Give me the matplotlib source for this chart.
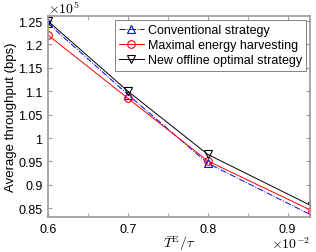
import numpy as np
import matplotlib
matplotlib.use("Agg")
import matplotlib.pyplot as plt
from matplotlib.ticker import MultipleLocator, FuncFormatter

x = [0.006, 0.007, 0.008, 0.0093]
conventional = [1.245e5, 1.093e5, 0.946e5, 0.835e5]
max_harvest = [1.220e5, 1.085e5, 0.951e5, 0.845e5]
offline_opt = [1.250e5, 1.100e5, 0.965e5, 0.855e5]

plt.rcParams["font.family"] = "Liberation Sans"
plt.rcParams["mathtext.fontset"] = "cm"

fig = plt.figure(figsize=(3.16, 2.53), dpi=100)
ax = fig.add_axes([0.152, 0.138, 0.829, 0.795])

ax.plot(x, conventional, "b-.^", lw=0.7, ms=5.5, mfc="none", mew=0.8, label="Conventional strategy")
ax.plot(x, max_harvest, "r-o", lw=0.7, ms=5.5, mfc="none", mew=0.8, label="Maximal energy harvesting")
ax.plot(x, offline_opt, "k-v", lw=0.7, ms=5.5, mfc="none", mew=0.8, label="New offline optimal strategy")

ax.set_xlim(0.006, 0.00928)
ax.set_ylim(0.831e5, 1.261e5)
ax.xaxis.set_major_locator(MultipleLocator(0.001))
ax.xaxis.set_minor_locator(MultipleLocator(0.0005))
ax.yaxis.set_major_locator(MultipleLocator(0.05e5))
ax.xaxis.set_major_formatter(FuncFormatter(lambda v, p: f"{v * 100:g}"))
ax.yaxis.set_major_formatter(FuncFormatter(lambda v, p: f"{v / 1e5:g}"))

ax.tick_params(which="both", direction="in", top=True, right=True, labelsize=9,
               color="0.6", length=3, pad=4)
for s in ax.spines.values():
    s.set_color("0.6")
    s.set_linewidth(1.2)

ax.text(0.0, 1.0, r"$\times10^{5}$", transform=ax.transAxes, fontsize=10,
        ha="left", va="bottom", family="DejaVu Sans")
ax.text(1.0, -0.09, r"$\times10^{-2}$", transform=ax.transAxes, fontsize=10,
        ha="right", va="top", family="DejaVu Sans")

ax.set_ylabel("Average throughput (bps)", fontsize=9.5, labelpad=1)
ax.set_xlabel(r"$\bar{T}^{\mathrm{E}}/\tau$", fontsize=10, labelpad=-1)

leg = ax.legend(loc="upper right", fontsize=9, fancybox=False, edgecolor="0.3",
                borderpad=0.35, labelspacing=0.25, handlelength=2.0, handletextpad=0.3,
                borderaxespad=0.3)
leg.get_frame().set_linewidth(0.6)

fig.savefig("out.png", dpi=100)
